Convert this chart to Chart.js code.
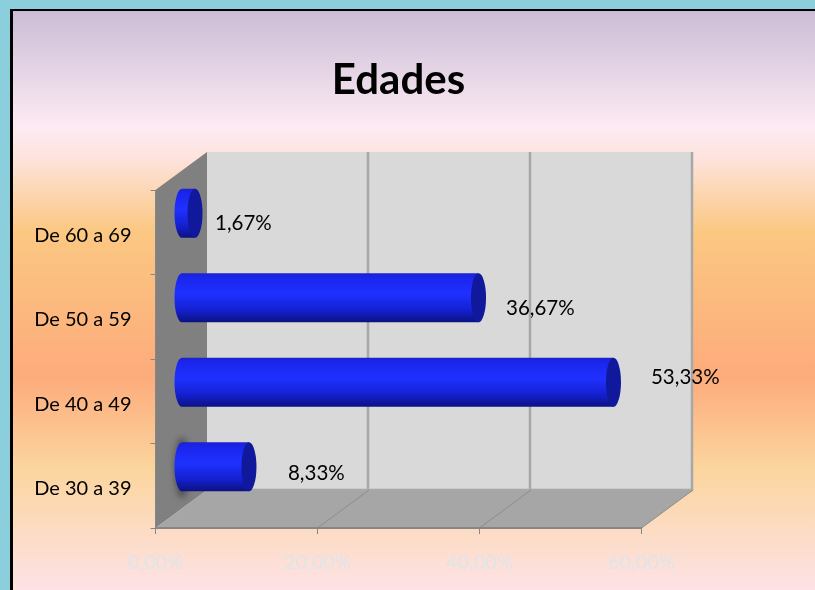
<!DOCTYPE html>
<html>
<head>
<meta charset="utf-8">
<style>html,body{margin:0;padding:0;background:#8ccfdc;overflow:hidden}canvas{display:block}</style>
<script src="https://cdn.jsdelivr.net/npm/chart.js@4"></script>
</head>
<body>
<div style="position:relative;width:815px;height:590px"><canvas id="c" width="815" height="590"></canvas></div>
<script>
const chartTitle = 'Edades';
const categories = ['De 60 a 69', 'De 50 a 59', 'De 40 a 49', 'De 30 a 39'];
const shares = [1.67, 36.67, 53.33, 8.33];
const axisMin = 0, axisMax = 60, axisStep = 20;

const fmt = (v, d) => v.toFixed(d).replace('.', ',') + '%';
const FONT = 'Lato, "Open Sans", sans-serif';
const DEPTH = { x: 51.5, y: -38 };
const BAR = { x: 26, y: -19, ratio: 0.58, capRx: 7.5 };
const labelNudge = [[46, -8.5], [53.5, -8], [63.5, -23.5], [65, -12]];

function bodyGradient(ctx, top, bottom) {
  const g = ctx.createLinearGradient(0, top, 0, bottom);
  g.addColorStop(0, '#1a22d4');
  g.addColorStop(0.12, '#1b26ee');
  g.addColorStop(0.42, '#1f31ff');
  g.addColorStop(0.75, '#1420d0');
  g.addColorStop(1, '#0c1280');
  return g;
}
function barHalf(chart) {
  const y = chart.scales.y;
  return (y.bottom - y.top) / categories.length * BAR.ratio / 2;
}

const scene = {
  id: 'scene',
  beforeDraw(chart) {
    const { ctx, width, height, chartArea: a, scales: { x } } = chart;
    ctx.save();
    ctx.fillStyle = '#8ccfdc';
    ctx.fillRect(0, 0, width, height);
    ctx.fillStyle = '#000';
    ctx.fillRect(10, 9, width - 10, height - 9);
    const bg = ctx.createLinearGradient(0, 11, 0, height);
    [[0, '#cbbdd6'], [0.2, '#fdeaf3'], [0.255, '#fde3dc'], [0.38, '#fbc882'], [0.63, '#fdab7b'], [0.79, '#fbd59e'], [1, '#fde2e6']]
      .forEach(s => bg.addColorStop(s[0], s[1]));
    ctx.fillStyle = bg;
    ctx.fillRect(13, 11, width - 13, height - 11);

    const dx = DEPTH.x, dy = DEPTH.y;
    const poly = (pts, fill) => {
      ctx.beginPath();
      pts.forEach((p, i) => i ? ctx.lineTo(p[0], p[1]) : ctx.moveTo(p[0], p[1]));
      ctx.closePath();
      ctx.fillStyle = fill;
      ctx.fill();
    };
    poly([[a.left, a.top], [a.left + dx, a.top + dy], [a.left + dx, a.bottom + dy], [a.left, a.bottom]], '#808080');
    poly([[a.left, a.bottom], [a.left + dx, a.bottom + dy], [a.right + dx, a.bottom + dy], [a.right, a.bottom]], '#a6a6a6');
    poly([[a.left + dx, a.top + dy], [a.right + dx, a.top + dy], [a.right + dx, a.bottom + dy], [a.left + dx, a.bottom + dy]], '#d9d9d9');

    ctx.strokeStyle = '#a8a8a8';
    ctx.lineWidth = 2.5;
    ctx.beginPath();
    x.ticks.forEach(t => {
      if (t.value === axisMin) return;
      const px = x.getPixelForValue(t.value) + dx - 1;
      ctx.moveTo(px, a.top + dy);
      ctx.lineTo(px, a.bottom + dy);
    });
    ctx.moveTo(a.left + dx, a.bottom + dy);
    ctx.lineTo(a.right + dx, a.bottom + dy);
    ctx.stroke();

    ctx.strokeStyle = '#8c8c8c';
    ctx.lineWidth = 1;
    ctx.beginPath();
    x.ticks.forEach(t => {
      if (t.value === axisMin) return;
      const px = x.getPixelForValue(t.value);
      ctx.moveTo(px, a.bottom);
      ctx.lineTo(px + dx, a.bottom + dy);
    });
    ctx.stroke();
    ctx.restore();
  },
  beforeDatasetDraw(chart) {
    const { ctx } = chart;
    ctx.save();
    ctx.translate(BAR.x, BAR.y);
    const meta = chart.getDatasetMeta(0);
    const h = barHalf(chart);
    meta.data.forEach((el, i) => {
      if (i === categories.length - 1) {
        ctx.save();
        ctx.filter = 'blur(3px)';
        ctx.fillStyle = 'rgba(50,50,50,0.6)';
        ctx.beginPath();
        ctx.ellipse(el.base, el.y + 1, BAR.capRx, h + 6, 0, 0, Math.PI * 2);
        ctx.fill();
        ctx.restore();
      }
      ctx.fillStyle = bodyGradient(ctx, el.y - h, el.y + h);
      ctx.beginPath();
      ctx.ellipse(el.base, el.y, BAR.capRx, h, 0, Math.PI / 2, Math.PI * 1.5);
      ctx.fill();
    });
  },
  afterDatasetDraw(chart) {
    const { ctx } = chart;
    const meta = chart.getDatasetMeta(0);
    const h = barHalf(chart);
    meta.data.forEach(el => {
      ctx.fillStyle = '#10189c';
      ctx.beginPath();
      ctx.ellipse(el.x, el.y, BAR.capRx, h, 0, 0, Math.PI * 2);
      ctx.fill();
    });
    ctx.restore();
  },
  afterDatasetsDraw(chart) {
    const { ctx, scales: { x, y } } = chart;
    ctx.save();
    ctx.fillStyle = '#000';
    ctx.font = '20.5px ' + FONT;
    ctx.textAlign = 'left';
    ctx.textBaseline = 'middle';
    shares.forEach((v, i) => {
      ctx.fillText(fmt(v, 2), x.getPixelForValue(v) + labelNudge[i][0], y.getPixelForValue(i) + labelNudge[i][1]);
    });
    ctx.restore();
  }
};

new Chart(document.getElementById('c'), {
  type: 'bar',
  plugins: [scene],
  data: {
    labels: categories,
    datasets: [{
      label: chartTitle,
      data: shares,
      barPercentage: BAR.ratio,
      categoryPercentage: 1,
      borderWidth: 0,
      clip: false,
      backgroundColor(c) {
        const chart = c.chart, ys = chart.scales.y;
        if (!ys || c.dataIndex === undefined) return '#1f31ff';
        const cy = ys.getPixelForValue(c.dataIndex), h = barHalf(chart);
        if (!Number.isFinite(cy) || !Number.isFinite(h)) return '#1f31ff';
        return bodyGradient(chart.ctx, cy - h, cy + h);
      }
    }]
  },
  options: {
    indexAxis: 'y',
    responsive: false,
    animation: false,
    layout: { padding: { left: 0, right: 173.5, top: 0, bottom: 0 } },
    plugins: {
      legend: { display: false },
      tooltip: { enabled: false },
      title: {
        display: true,
        text: chartTitle,
        fullSize: false,
        color: '#000',
        font: { family: FONT, size: 42, weight: 'bold', lineHeight: 1.2 },
        padding: { top: 54.8, bottom: 84.8 }
      }
    },
    scales: {
      x: {
        min: axisMin, max: axisMax,
        afterFit(s) { s.height = 62; },
        border: { display: true, color: '#868686', width: 2 },
        grid: { display: true, drawOnChartArea: false, drawTicks: true, tickLength: 6, color: '#868686', lineWidth: 1 },
        ticks: { stepSize: axisStep, padding: 17, maxRotation: 0, color: '#dfe4ea', font: { family: FONT, size: 20 }, callback: v => fmt(v, 2) }
      },
      y: {
        afterFit(s) { s.width = 155.5; },
        border: { display: true, color: '#868686', width: 1 },
        grid: { display: true, drawOnChartArea: false, drawTicks: true, tickLength: 5, color: '#868686', lineWidth: 1 },
        ticks: { padding: 19, labelOffset: 3, color: '#000', font: { family: FONT, size: 20 } }
      }
    }
  }
});
</script>
</body>
</html>
